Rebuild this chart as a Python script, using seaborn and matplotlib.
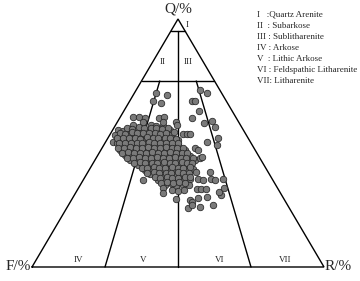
import matplotlib
matplotlib.use("Agg")
import matplotlib.pyplot as plt
import numpy as np
import pandas as pd
import seaborn as sns

# ---- sample compositions (Q, R in %; F = 100 - Q - R) ----
# dense core of the cloud
core_q = [57.2, 56.6, 57.4, 56.8, 57.0,
          55.4, 55.0, 55.6, 54.7, 55.3, 54.9, 55.7, 55.1, 54.6, 55.4,
          53.4, 52.8, 53.5, 53.0, 53.3, 52.7, 53.6, 53.1, 52.9, 53.2, 53.6, 53.6, 53.6,
          50.6, 51.3, 50.9, 51.5, 50.8, 51.2, 51.6, 50.7, 51.1, 51.4, 50.9, 51.2,
          49.8, 48.9, 49.4, 49.0, 49.6, 48.8, 49.3, 49.7, 49.1, 48.7, 49.5, 49.0,
          47.3, 46.8, 47.5, 47.0, 46.6, 47.4, 47.1, 46.7, 47.6, 47.2, 46.9, 47.3,
          45.1, 45.6, 44.8, 45.3, 45.7, 44.9, 45.4, 45.0, 44.7, 45.5, 45.2, 44.9,
          43.3, 42.8, 43.5, 43.0, 42.7, 43.4, 43.1, 42.9, 43.6, 43.2, 42.8, 43.3,
          41.2, 40.7, 41.4, 41.0, 40.8, 41.5, 41.1, 40.6, 41.3, 40.9,
          39.0, 39.5, 38.7, 39.2, 39.6, 38.9, 39.3, 38.8, 39.4,
          37.3, 36.8, 37.0, 37.4, 36.9, 37.2, 37.0,
          35.2, 34.8, 35.4, 35.0, 34.7, 35.3, 35.6, 35.1, 35.4, 34.9, 35.5,
          33.0, 33.4, 32.8, 33.2, 32.9,
          31.2, 30.8, 31.1]
core_r = [6.0, 9.6, 12.0, 14.2, 16.5,
          1.9, 3.5, 5.5, 7.4, 9.6, 11.5, 13.4, 15.6, 17.5, 19.5,
          1.6, 4.8, 6.8, 8.9, 10.7, 12.9, 14.8, 16.9, 18.8, 21.0, 24.9, 26.3, 27.3,
          2.6, 4.0, 6.1, 8.0, 10.2, 12.1, 14.3, 16.2, 18.3, 20.4, 22.6, 24.5,
          4.1, 5.6, 7.7, 9.6, 11.8, 13.7, 15.9, 17.8, 19.9, 21.8, 24.0, 25.4,
          6.5, 8.6, 10.5, 12.7, 14.6, 16.8, 18.7, 20.9, 22.8, 25.0, 26.9, 28.8,
          9.2, 11.3, 13.2, 15.4, 17.3, 19.5, 21.4, 23.6, 25.5, 27.7, 29.6, 31.5,
          12.0, 14.1, 16.0, 18.2, 20.1, 22.3, 24.2, 26.4, 28.3, 30.5, 32.3, 34.2,
          15.7, 17.8, 19.7, 21.9, 23.8, 26.0, 27.9, 30.1, 32.0, 33.7,
          19.1, 21.2, 23.1, 25.3, 27.2, 29.4, 31.3, 33.5, 35.4,
          21.9, 24.0, 26.1, 28.0, 30.2, 32.2, 34.0,
          25.7, 27.8, 29.8, 31.9, 33.8, 36.6, 39.0, 41.1, 43.5, 45.2, 47.6,
          29.0, 31.1, 33.0, 35.2, 37.3,
          32.4, 34.5, 36.6]

# samples packed between the core rows
fill_q = [56.1, 55.8, 56.3, 55.9, 56.2, 56.0, 55.7, 56.2,
          54.1, 53.8, 54.3, 54.0, 53.9, 54.2, 54.0, 53.8, 54.1, 54.3,
          52.0, 52.2, 51.9, 52.1, 51.8, 52.3, 52.0, 51.9, 52.2, 52.1, 51.8,
          50.0, 49.8, 50.2, 50.1, 49.9, 50.3, 50.0, 49.8, 50.1, 50.2, 49.9,
          48.1, 47.9, 48.2, 48.0, 47.8, 48.3, 48.1, 47.9, 48.2, 48.0, 47.8, 48.1,
          46.0, 46.2, 45.9, 46.1, 45.8, 46.3, 46.0, 45.9, 46.2, 46.1, 45.8, 46.0,
          44.1, 43.9, 44.2, 44.0, 43.8, 44.3, 44.1, 43.9, 44.2, 44.0, 43.8, 44.1,
          42.0, 42.2, 41.9, 42.1, 41.8, 42.3, 42.0, 41.9, 42.2, 42.1, 41.8,
          40.1, 39.9, 40.2, 40.0, 39.8, 40.3, 40.1, 39.9, 40.2,
          38.0, 38.2, 37.9, 38.1, 37.8, 38.3, 38.0, 37.9, 38.2,
          36.1, 35.9, 36.2, 36.0, 35.8, 36.3, 36.1,
          34.0, 34.2, 33.9, 34.1, 33.8]
fill_r = [4.5, 6.5, 8.5, 10.5, 12.6, 14.5, 16.6, 18.4,
          3.0, 5.0, 7.0, 9.0, 11.0, 13.0, 15.0, 17.0, 19.0, 21.5,
          3.2, 5.2, 7.1, 9.3, 11.2, 13.2, 15.3, 17.2, 19.3, 21.2, 23.4,
          4.8, 6.8, 8.8, 10.9, 12.8, 14.9, 16.9, 19.0, 20.9, 23.0, 25.0,
          5.5, 7.5, 9.6, 11.6, 13.6, 15.7, 17.7, 19.8, 21.8, 23.9, 25.9, 27.8,
          7.8, 9.8, 11.9, 13.9, 16.0, 18.0, 20.1, 22.1, 24.2, 26.2, 28.3, 30.2,
          10.5, 12.6, 14.6, 16.7, 18.7, 20.8, 22.8, 24.9, 26.9, 29.0, 31.0, 33.0,
          13.8, 15.8, 17.9, 19.9, 22.0, 24.0, 26.1, 28.1, 30.2, 32.2, 34.0,
          17.5, 19.5, 21.6, 23.6, 25.7, 27.7, 29.8, 31.8, 33.9,
          20.5, 22.6, 24.6, 26.7, 28.7, 30.8, 32.8, 34.9, 37.0,
          24.0, 26.0, 28.1, 30.1, 32.2, 34.2, 36.0,
          27.2, 29.3, 31.3, 33.4, 35.5]

# scattered samples above the core
upper_q = [70.2, 69.4, 66.9, 66.1, 71.4, 70.2, 66.9, 66.9, 62.9, 60.1, 58.1, 59.0,
           56.5, 52.0, 50.4, 49.2, 58.5, 60.3, 60.3, 60.1, 60.1, 60.3, 58.5, 58.5,
           57.3, 48.0, 47.2, 44.0, 44.4]
upper_r = [7.4, 11.5, 8.0, 11.1, 21.8, 24.8, 21.3, 22.4, 25.8, 24.8, 29.9, 32.2,
           34.4, 37.7, 34.7, 38.7, 20.0, 4.6, 6.5, 8.6, 13.5, 15.1, 8.8, 15.7,
           21.1, 31.8, 33.2, 35.5, 36.0]

# scattered samples below the core
lower_q = [35.1, 31.9, 29.8, 27.4, 27.0, 26.2, 27.8, 24.2, 28.2, 25.0, 29.0, 30.2,
           38.3, 23.8, 31.6, 31.6, 31.6, 31.9, 25.0]
lower_r = [20.5, 28.9, 30.0, 35.6, 40.6, 41.7, 42.9, 45.4, 45.8, 49.5, 50.2, 48.9,
           41.8, 41.5, 40.7, 42.1, 43.8, 49.8, 42.3]

legend_lines = ["I   :Quartz Arenite", "II  : Subarkose", "III : Sublitharenite",
                "IV : Arkose", "V  : Lithic Arkose", "VI : Feldspathic Litharenite",
                "VII: Litharenite"]
region_labels = ["I", "II", "III", "IV", "V", "VI", "VII"]

q = np.array(core_q + fill_q + upper_q + lower_q)
r = np.array(core_r + fill_r + upper_r + lower_r)
df = pd.DataFrame({"Q": q, "R": r})
df["F"] = 100 - df["Q"] - df["R"]
df["x"] = df["R"] + df["Q"] / 2.0
df["y"] = df["Q"]

sns.set_theme(style="white")
plt.rcParams["font.family"] = ["Liberation Serif", "DejaVu Serif"]

fig = plt.figure(figsize=(3.6, 2.81), dpi=100)
ax = fig.add_axes([0, 0, 1, 1])
ax.set_xlim(-10.96, 112.33)
ax.set_ylim(-5.645, 107.66)
ax.axis("off")

lw = 1.0
k = "black"
# triangle and Folk boundaries (in ternary-derived coordinates)
ax.plot([0, 100, 50, 0], [0, 0, 100, 0], color=k, lw=lw, zorder=1, solid_joinstyle="miter")
ax.plot([47.5, 52.5], [95, 95], color=k, lw=lw, zorder=1)
ax.plot([37.5, 62.5], [75, 75], color=k, lw=lw, zorder=1)
ax.plot([50, 50], [95, 0], color=k, lw=lw, zorder=1)
ax.plot([43.75, 25], [75, 0], color=k, lw=lw, zorder=1)
ax.plot([56.25, 75], [75, 0], color=k, lw=lw, zorder=1)

sns.scatterplot(data=df, x="x", y="y", ax=ax, s=22, color="#7a7a7a",
                edgecolor="#262626", linewidth=0.55, zorder=3, legend=False)

ax.text(50, 104.0, "Q/%", ha="center", va="center", fontsize=11)
ax.text(-0.3, -1.2, "F/%", ha="right", va="baseline", fontsize=11)
ax.text(100.3, -1.2, "R/%", ha="left", va="baseline", fontsize=11)

rl_pos = [(53.1, 97.6), (44.9, 82.7), (53.4, 82.7), (15.8, 2.8), (38.0, 2.8),
          (64.4, 2.8), (86.6, 2.8)]
for lab, (px, py) in zip(region_labels, rl_pos):
    ax.text(px, py, lab, ha="center", va="center", fontsize=6.5)

for i, line in enumerate(legend_lines):
    fig.text(257 / 360, 1 - (14.5 + 11.1 * i) / 281, line, ha="left", va="center",
             fontsize=6.5)

fig.savefig("out.png", dpi=100)
